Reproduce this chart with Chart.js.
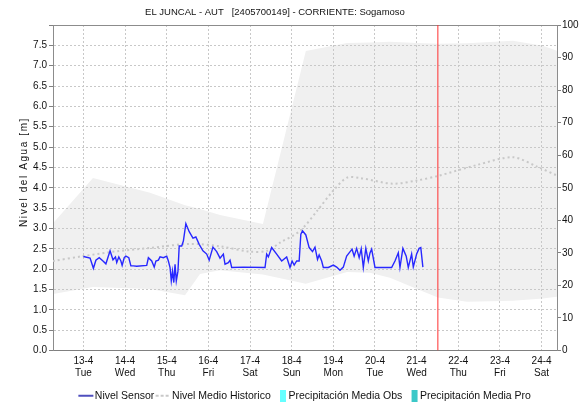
<!DOCTYPE html>
<html>
<head>
<meta charset="utf-8">
<script src="https://cdn.jsdelivr.net/npm/chart.js@4.4.1/dist/chart.umd.min.js"></script>
<style>
html, body { margin: 0; padding: 0; background: #fff; }
#wrap { width: 580px; height: 403px; position: relative; }
</style>
</head>
<body>
<div id="wrap"><canvas id="nivelchart"></canvas></div>
<script>
// eje x en dias de abril (la fraccion es la hora del dia)
var dayTicks = [13, 14, 15, 16, 17, 18, 19, 20, 21, 22, 23, 24];
var dayLabels = ['13-4', '14-4', '15-4', '16-4', '17-4', '18-4', '19-4', '20-4', '21-4', '22-4', '23-4', '24-4'];
var weekDays = ['Tue', 'Wed', 'Thu', 'Fri', 'Sat', 'Sun', 'Mon', 'Tue', 'Wed', 'Thu', 'Fri', 'Sat'];
var dayMin = 12.27;
var dayMax = 24.37;
var nowDay = 21.51;

var chartTitle = 'EL JUNCAL - AUT   [2405700149] - CORRIENTE: Sogamoso';
var levelTitle = 'Nivel del Agua [m]';

// nivel sensor [m]
var sensorDays = [13.00, 13.16, 13.24, 13.30, 13.38, 13.47, 13.54, 13.64, 13.71, 13.77, 13.80, 13.85, 13.90, 13.93, 13.98,
  14.02, 14.09, 14.14, 14.20, 14.28, 14.52, 14.56, 14.64, 14.70, 14.74, 14.80, 14.84, 14.92,
  15.00, 15.04, 15.08, 15.11, 15.14, 15.17, 15.20, 15.23, 15.27, 15.30, 15.36, 15.40, 15.46, 15.54, 15.63, 15.70, 15.78, 15.87, 15.96,
  16.02, 16.11, 16.20, 16.28, 16.36, 16.40, 16.48, 16.52, 16.56, 16.84,
  17.36, 17.40, 17.44, 17.52, 17.64, 17.76, 17.88, 17.96,
  18.01, 18.06, 18.12, 18.18, 18.22, 18.26, 18.34, 18.42, 18.50, 18.56, 18.62, 18.66, 18.72, 18.76, 18.88,
  19.00, 19.08, 19.16, 19.24, 19.32, 19.38, 19.45, 19.50, 19.56, 19.62, 19.67, 19.72, 19.78, 19.84, 19.88, 19.92,
  20.00, 20.40, 20.48, 20.56, 20.60, 20.67, 20.75, 20.80, 20.88, 20.92,
  21.00, 21.06, 21.10, 21.15];
var sensorLevel = [2.31, 2.27, 2.02, 2.22, 2.28, 2.20, 2.13, 2.45, 2.23, 2.30, 2.16, 2.30, 2.20, 2.09, 2.28,
  2.32, 2.28, 2.08, 2.08, 2.07, 2.09, 2.28, 2.20, 2.05, 2.20, 2.22, 2.30, 2.28,
  2.32, 2.20, 2.04, 1.71, 1.95, 1.67, 2.12, 1.71, 1.95, 2.57, 2.57, 2.69, 3.12, 2.92, 2.76, 2.79, 2.61, 2.45, 2.37,
  2.22, 2.54, 2.43, 2.27, 2.37, 2.12, 2.16, 2.22, 2.04, 2.05,
  2.04, 2.37, 2.30, 2.53, 2.37, 2.20, 2.30, 2.04,
  2.20, 2.10, 2.20, 2.20, 2.86, 2.94, 2.84, 2.53, 2.43, 2.54, 2.24, 2.35, 2.20, 2.04, 2.04,
  2.10, 2.05, 1.97, 2.05, 2.32, 2.40, 2.49, 2.32, 2.51, 2.28, 2.50, 2.04, 2.51, 2.20, 2.40, 2.49,
  2.04, 2.04, 2.20, 2.40, 2.04, 2.51, 2.32, 2.04, 2.37, 2.05,
  2.37, 2.51, 2.53, 2.05];

// nivel medio historico [m]
var histDays = [12.27, 12.99, 13.81, 14.60, 15.56, 16.28, 17.00, 17.41, 17.72, 18.20, 18.61, 18.99, 19.33, 19.64,
  20.43, 21.01, 21.51, 22.45, 23.31, 23.89, 24.37];
var histMean = [2.20, 2.32, 2.44, 2.52, 2.62, 2.56, 2.43, 2.45, 2.65, 2.94, 3.43, 3.92, 4.25, 4.24,
  4.10, 4.18, 4.29, 4.56, 4.75, 4.52, 4.30];

// franja historica min / max [m]
var bandDays = [12.27, 13.23, 14.60, 15.44, 15.80, 16.28, 17.31, 18.34, 19.33, 19.88, 20.36, 21.01, 21.51, 22.21, 23.31, 24.03, 24.37];
var bandMax = [3.13, 4.24, 3.88, 3.57, 3.48, 3.33, 3.11, 7.36, 7.56, 7.57, 7.59, 7.56, 7.54, 7.55, 7.61, 7.49, 7.37];
var bandMin = [1.39, 1.56, 1.51, 1.36, 1.88, 1.97, 1.87, 1.64, 1.93, 1.91, 1.79, 1.51, 1.30, 1.20, 1.22, 1.28, 1.32];

// precipitacion [mm] (sin datos en este periodo)
var precipObs = [];
var precipPro = [];

var FONT = '"Liberation Sans", Arial, sans-serif';

function pts(xs, ys) {
  return xs.map(function (x, i) { return { x: x, y: ys[i] }; });
}

// marcadores de la leyenda
function legendMark(draw) {
  var c = document.createElement('canvas');
  c.width = 30;
  c.height = 12;
  draw(c.getContext('2d'));
  return c;
}
var marks = [
  legendMark(function (g) { g.strokeStyle = '#1414a8'; g.lineWidth = 1.5; g.beginPath(); g.moveTo(9, 6); g.lineTo(24, 6); g.stroke(); }),
  legendMark(function (g) { g.fillStyle = '#c8c8c8'; [9, 14, 19].forEach(function (x) { g.fillRect(x, 5, 3, 2); }); }),
  legendMark(function (g) { g.fillStyle = '#66ffff'; g.fillRect(17, 0, 6, 12); }),
  legendMark(function (g) { g.fillStyle = '#3cc8c8'; g.fillRect(17, 0, 6, 12); })
];

var titles = {
  id: 'titles',
  afterDraw: function (chart) {
    var ctx = chart.ctx;
    ctx.save();
    ctx.fillStyle = '#111';
    ctx.textAlign = 'center';
    ctx.textBaseline = 'middle';
    ctx.font = '9.5px ' + FONT;
    ctx.fillText(chartTitle, 275, 12);
    ctx.font = '10px ' + FONT;
    ctx.letterSpacing = '1.6px';
    ctx.translate(24.5, 172);
    ctx.rotate(-Math.PI / 2);
    ctx.fillText(levelTitle, 0, 0);
    ctx.restore();
  }
};

var grid = { color: '#c8c8c8', lineWidth: 1, tickColor: '#808080', tickBorderDash: [], tickLength: 4 };

new Chart(document.getElementById('nivelchart'), {
  type: 'line',
  data: {
    datasets: [
      { label: 'Nivel Sensor', data: pts(sensorDays, sensorLevel), borderColor: '#2828ff', borderWidth: 1.4,
        pointRadius: 0, tension: 0, fill: false, yAxisID: 'y' },
      { label: 'Nivel Medio Historico', data: pts(histDays, histMean), borderColor: '#c8c8c8', borderWidth: 2,
        borderDash: [2, 3], pointRadius: 0, tension: 0.3, fill: false, yAxisID: 'y' },
      { type: 'bar', label: 'Precipitación Media Obs', data: precipObs, backgroundColor: '#66ffff', yAxisID: 'y2' },
      { type: 'bar', label: 'Precipitación Media Pro', data: precipPro, backgroundColor: '#3cc8c8', yAxisID: 'y2' },
      { label: 'max', data: pts(bandDays, bandMax), borderWidth: 0, pointRadius: 0, tension: 0,
        backgroundColor: '#f0f0f0', fill: '+1', yAxisID: 'y' },
      { label: 'min', data: pts(bandDays, bandMin), borderWidth: 0, pointRadius: 0, tension: 0, fill: false, yAxisID: 'y' },
      { label: 'ahora', data: [{ x: nowDay, y: 0 }, { x: nowDay, y: 8 }], borderColor: '#ff3030', borderWidth: 1,
        pointRadius: 0, fill: false, yAxisID: 'y' }
    ]
  },
  options: {
    responsive: true,
    maintainAspectRatio: false,
    animation: false,
    devicePixelRatio: 1,
    layout: { padding: { top: 25, left: 0, right: 0, bottom: -8 } },
    scales: {
      x: {
        type: 'linear', position: 'bottom', min: dayMin, max: dayMax, offset: false,
        afterBuildTicks: function (scale) { scale.ticks = dayTicks.map(function (v) { return { value: v }; }); },
        afterFit: function (scale) { scale.height = 38; },
        grid: { color: '#c8c8c8', drawTicks: false, offset: false },
        border: { dash: [2, 2], color: '#808080' },
        ticks: {
          padding: 5, color: '#111', maxRotation: 0, autoSkip: false,
          font: { size: 10, family: FONT, lineHeight: 1.17 },
          callback: function (v) {
            var i = dayTicks.indexOf(v);
            return i < 0 ? '' : [dayLabels[i], weekDays[i]];
          }
        }
      },
      xTop: {
        type: 'linear', position: 'top', min: dayMin, max: dayMax, offset: false,
        afterFit: function (scale) { scale.height = 0; },
        grid: { display: false },
        ticks: { display: false },
        border: { color: '#8c8c8c' }
      },
      y: {
        position: 'left', min: 0, max: 8,
        afterFit: function (scale) { scale.width = 53; },
        grid: grid,
        border: { dash: [2, 2], color: '#8c8c8c' },
        ticks: {
          stepSize: 0.5, maxTicksLimit: 20, padding: 2, color: '#111',
          font: { size: 10, family: FONT },
          callback: function (v) { return v >= 8 ? '' : v.toFixed(1); }
        }
      },
      y2: {
        position: 'right', min: 0, max: 100,
        afterFit: function (scale) { scale.width = 23; },
        grid: { drawOnChartArea: false, tickColor: '#808080', tickLength: 4 },
        border: { color: '#8c8c8c' },
        ticks: { stepSize: 10, maxTicksLimit: 20, padding: 1, color: '#111', font: { size: 10, family: FONT } }
      }
    },
    plugins: {
      filler: { drawTime: 'beforeDraw' },
      tooltip: { enabled: false },
      legend: {
        position: 'bottom',
        fullSize: false,
        labels: {
          usePointStyle: true, boxWidth: 11, boxHeight: 11, padding: 2, color: '#111',
          font: { size: 10.5, family: FONT },
          filter: function (item) { return item.datasetIndex < 4; },
          generateLabels: function (chart) {
            var items = Chart.defaults.plugins.legend.labels.generateLabels(chart);
            items.forEach(function (it) { it.pointStyle = marks[it.datasetIndex]; });
            return items;
          }
        }
      }
    }
  },
  plugins: [titles]
});
</script>
</body>
</html>
